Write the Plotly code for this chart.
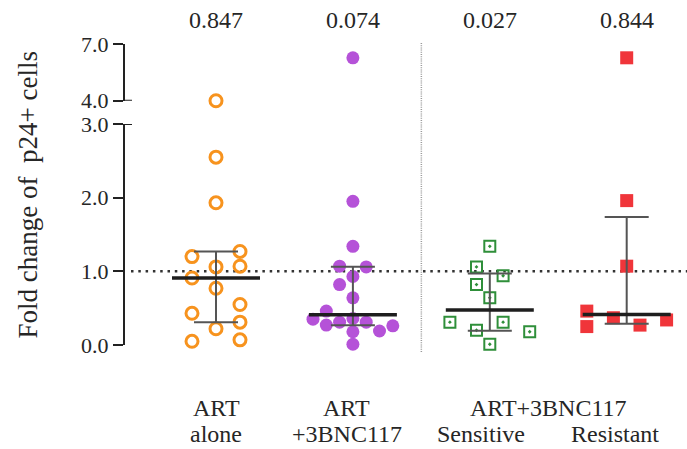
import numpy as np
import plotly.graph_objects as go

# ---------------- data ----------------
groups = ["ART alone", "ART +3BNC117", "Sensitive", "Resistant"]
p_values = ["0.847", "0.074", "0.027", "0.844"]

art_alone = [4.0, 2.55, 1.93, 1.20, 1.27, 1.06, 1.07, 0.91, 0.77, 0.55, 0.43, 0.31, 0.22, 0.05, 0.07]
art_3bnc = [6.27, 1.95, 1.34, 1.07, 1.06, 0.93, 0.82, 0.64, 0.46, 0.35, 0.27, 0.31, 0.36, 0.31,
            0.19, 0.26, 0.18, 0.01]
sensitive = [1.34, 1.06, 0.94, 0.82, 0.64, 0.31, 0.31, 0.20, 0.18, 0.01]
resistant = [6.27, 1.96, 1.07, 0.46, 0.25, 0.37, 0.27, 0.34]

series = [art_alone, art_3bnc, sensitive, resistant]

# ---------------- layout / style (not data) ----------------
# swarm slots (in units of the per-group step) for the scatter layout
swarm_slots = [
    [0, 0, 0, -2, 2, 0, 2, -2, 0, 2, -2, 2, 0, -2, 2],
    [0, 0, 0, -1, 1, 0, -1, 0, -2, -3, -2, -1, 0, 1, 2, 3, 0, 0],
    [0, -1, 1, -1, 0, -3, 1, -1, 3, 0],
    [0, 0, 0, -3, -3, -1, 1, 3],
]
step_px = [12.0, 13.3, 13.3, 13.3]

W, H = 687, 449
ML, MR, MT, MB = 125, 0, 44, 104
plot_w = W - ML - MR
plot_h = H - MT - MB
px_per_unit = 136.9
x_lo = (ML - 216) / px_per_unit
x_hi = x_lo + plot_w / px_per_unit

low_top_px = 124      # pixel of 3.0
up_bot_px = 100.7     # pixel of 4.0
bottom_px = H - MB
low_dom = [0, (bottom_px - low_top_px) / plot_h]
up_dom = [(bottom_px - up_bot_px) / plot_h, 1]
BREAK = 3.5

styles = [
    dict(symbol="circle-open", size=12, color="#f7931e", line=dict(width=3, color="#f7931e")),
    dict(symbol="circle", size=13, color="#b552d8", line=dict(width=0)),
    dict(symbol="square-open-dot", size=11, color="#2f8f3a", line=dict(width=2, color="#2f8f3a")),
    dict(symbol="square", size=13, color="#f0353a", line=dict(width=0)),
]

fig = go.Figure()

for gi, vals in enumerate(series):
    xs_lo, ys_lo, xs_up, ys_up = [], [], [], []
    for v, s in zip(vals, swarm_slots[gi]):
        x = gi + s * step_px[gi] / px_per_unit
        if v >= BREAK:
            xs_up.append(x); ys_up.append(v)
        else:
            xs_lo.append(x); ys_lo.append(v)
    fig.add_trace(go.Scatter(x=xs_lo, y=ys_lo, mode="markers", marker=styles[gi],
                             cliponaxis=False, showlegend=False, yaxis="y"))
    if xs_up:
        fig.add_trace(go.Scatter(x=xs_up, y=ys_up, mode="markers", marker=styles[gi],
                                 cliponaxis=False, showlegend=False, yaxis="y2"))

# median + interquartile range (GraphPad-style quartiles)
half_w = 44 / px_per_unit
for gi, vals in enumerate(series):
    arr = np.array(vals)
    med = float(np.median(arr))
    q1, q3 = np.percentile(arr, [25, 75], method="weibull")
    fig.add_trace(go.Scatter(
        x=[gi], y=[med], mode="markers", marker=dict(size=0.1, color="rgba(0,0,0,0)"),
        error_y=dict(type="data", symmetric=False, array=[q3 - med], arrayminus=[med - q1],
                     width=22, thickness=2, color="#555555"),
        showlegend=False, cliponaxis=False))
    fig.add_trace(go.Scatter(x=[gi - half_w, gi + half_w], y=[med, med], mode="lines",
                             line=dict(color="#1e1e1e", width=3.5), showlegend=False,
                             cliponaxis=False))

font_tick = dict(family="Liberation Serif", size=22, color="#262626")
font_txt = dict(family="Liberation Serif", size=24, color="#262626")

fig.update_layout(
    width=W, height=H, margin=dict(l=ML, r=MR, t=MT, b=MB),
    paper_bgcolor="white", plot_bgcolor="white",
    xaxis=dict(range=[x_lo, x_hi], showline=False, showgrid=False, zeroline=False,
               showticklabels=False, ticks=""),
    yaxis=dict(domain=low_dom, range=[0, 3], tickvals=[0, 1, 2, 3],
               ticktext=["0.0", "1.0", "2.0", "3.0"], showline=True, linewidth=2,
               linecolor="#222222", ticks="outside", ticklen=10, tickwidth=2, tickcolor="#222222",
               showgrid=False, zeroline=False, tickfont=font_tick, anchor="x"),
    yaxis2=dict(domain=up_dom, range=[4, 7], tickvals=[4, 7], ticktext=["4.0", "7.0"],
                showline=True, linewidth=2, linecolor="#222222", ticks="outside", ticklen=10,
                tickwidth=2, tickcolor="#222222", showgrid=False, zeroline=False,
                tickfont=font_tick, anchor="x"),
)

shapes = []
# axis break caps
shapes.append(dict(type="line", xref="paper", x0=0, x1=7 / plot_w, yref="y", y0=3, y1=3,
                   line=dict(color="#222222", width=2)))
shapes.append(dict(type="line", xref="paper", x0=0, x1=7 / plot_w, yref="y2", y0=4, y1=4,
                   line=dict(color="#222222", width=2)))
# reference line at 1.0
shapes.append(dict(type="line", xref="paper", x0=6 / plot_w, x1=1, yref="y", y0=1, y1=1,
                   line=dict(color="#333333", width=2.5, dash="2.5px,4.8px"), layer="below"))
# separator
shapes.append(dict(type="line", xref="x", x0=1.5, x1=1.5, yref="paper",
                   y0=(bottom_px - 352) / plot_h, y1=(bottom_px - 43) / plot_h,
                   line=dict(color="#9a9a9a", width=1.5, dash="1px,1.2px"), layer="below"))
fig.update_layout(shapes=shapes)

ann = []
for gi, p in enumerate(p_values):
    ann.append(dict(text=p, x=gi, xref="x", y=(bottom_px - 20) / plot_h, yref="paper",
                    showarrow=False, font=font_txt, xanchor="center", yanchor="middle"))

ann.append(dict(text="ART", x=0, xref="x", y=(bottom_px - 408) / plot_h, yref="paper",
                showarrow=False, font=font_txt, xanchor="center", yanchor="middle"))
ann.append(dict(text="alone", x=0, xref="x", y=(bottom_px - 434) / plot_h, yref="paper",
                showarrow=False, font=font_txt, xanchor="center", yanchor="middle"))
ann.append(dict(text="ART", x=1, xref="x", xshift=-6, y=(bottom_px - 408) / plot_h,
                yref="paper", showarrow=False, font=font_txt, xanchor="center", yanchor="middle"))
ann.append(dict(text="+3BNC117", x=1, xref="x", xshift=-6, y=(bottom_px - 434) / plot_h,
                yref="paper", showarrow=False, font=font_txt, xanchor="center", yanchor="middle"))
ann.append(dict(text="ART+3BNC117", x=2.5, xref="x", xshift=-10, y=(bottom_px - 408) / plot_h,
                yref="paper", showarrow=False, font=font_txt, xanchor="center", yanchor="middle"))
ann.append(dict(text="Sensitive", x=2, xref="x", xshift=-9, y=(bottom_px - 434) / plot_h,
                yref="paper", showarrow=False, font=font_txt, xanchor="center", yanchor="middle"))
ann.append(dict(text="Resistant", x=3, xref="x", xshift=-12, y=(bottom_px - 434) / plot_h,
                yref="paper", showarrow=False, font=font_txt, xanchor="center", yanchor="middle"))
ann.append(dict(text="Fold change of  p24+ cells", textangle=-90, x=(27 - ML) / plot_w,
                xref="paper", y=(bottom_px - 195.5) / plot_h, yref="paper", showarrow=False,
                font=dict(family="Liberation Serif", size=27, color="#262626"),
                xanchor="center", yanchor="middle"))
fig.update_layout(annotations=ann)

fig.write_html("out.html", config={"displayModeBar": False},
               post_script="document.body.style.margin='0';")
